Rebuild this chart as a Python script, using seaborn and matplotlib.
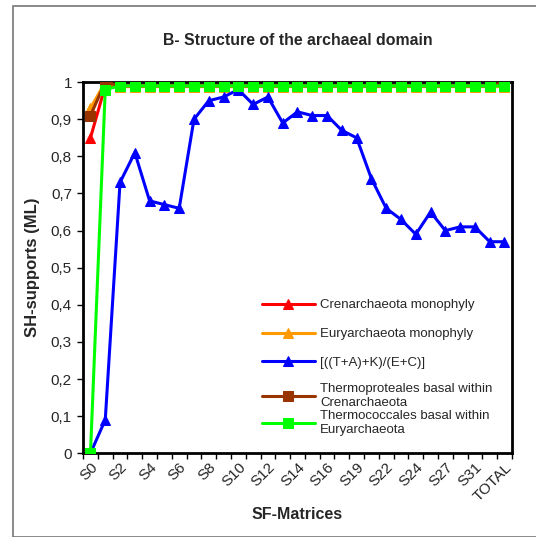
import numpy as np
import pandas as pd
import matplotlib
matplotlib.use("Agg")
import matplotlib.pyplot as plt
import seaborn as sns
from matplotlib.ticker import FixedLocator, FuncFormatter
from matplotlib.patches import Rectangle

matrices = ['S0', 'S1', 'S2', 'S3', 'S4', 'S5', 'S6', 'S7', 'S8', 'S9', 'S10',
            'S11', 'S12', 'S13', 'S14', 'S15', 'S16', 'S18', 'S19', 'S21', 'S22',
            'S23', 'S24', 'S26', 'S27', 'S30', 'S31', 'S32', 'TOTAL']

crenarchaeota = [0.85] + [0.99] * 28
euryarchaeota = [0.93, 1.0] + [0.988] * 27
tak_ec = [0.0, 0.09, 0.73, 0.81, 0.68, 0.67, 0.66, 0.90, 0.95, 0.96, 0.98,
          0.94, 0.96, 0.89, 0.92, 0.91, 0.91, 0.87, 0.85, 0.74, 0.66,
          0.63, 0.59, 0.65, 0.60, 0.61, 0.61, 0.57, 0.57]
thermoproteales = [0.91, 1.0] + [0.99] * 26 + [1.0]
thermococcales = [0.0, 0.98] + [0.99] * 27

series = [
    ('Crenarchaeota monophyly', crenarchaeota, '#ff0000', '^'),
    ('Euryarchaeota monophyly', euryarchaeota, '#ff9900', '^'),
    ('[((T+A)+K)/(E+C)]', tak_ec, '#0000ff', '^'),
    ('Thermoproteales basal within\nCrenarchaeota', thermoproteales, '#993300', 's'),
    ('Thermococcales basal within\nEuryarchaeota', thermococcales, '#00ff00', 's'),
]

sns.set_style('white')
plt.rcParams['font.family'] = ['Liberation Sans', 'DejaVu Sans']

fig = plt.figure(figsize=(5.36, 5.37), dpi=100)
ax = fig.add_axes([0.155, 0.156, 0.800, 0.691])

pos = np.arange(len(matrices))
for label, vals, color, marker in series:
    df = pd.DataFrame({'x': pos, 'y': vals})
    sns.lineplot(data=df, x='x', y='y', ax=ax, color=color, marker=marker,
                 markersize=7.5, markeredgecolor=color, linewidth=2.2,
                 label=label, sort=False)

ax.set_xlim(-0.5, len(matrices) - 0.5)
ax.set_ylim(0, 1)
ax.set_yticks(np.arange(0, 1.01, 0.1))
ax.yaxis.set_major_formatter(FuncFormatter(
    lambda v, p: '0' if abs(v) < 1e-9 else ('1' if abs(v - 1) < 1e-9 else ('%.1f' % v).replace('.', ','))))
ax.set_xticks(pos[::2])
ax.set_xticklabels(matrices[::2], rotation=45, ha='right', rotation_mode='anchor')
ax.xaxis.set_minor_locator(FixedLocator(np.arange(-0.5, len(matrices), 1)))
ax.tick_params(axis='x', which='major', length=0, labelsize=11, pad=5)
ax.tick_params(axis='x', which='minor', length=4, width=1, direction='out', color='black', bottom=True)
ax.tick_params(axis='y', length=4, width=1, direction='out', color='black', left=True, labelsize=11, pad=4)

for sp in ax.spines.values():
    sp.set_color('black')
    sp.set_linewidth(2)
    sp.set_zorder(1)

ax.set_xlabel('SF-Matrices', fontsize=11.5, fontweight='bold', labelpad=2)
ax.set_ylabel('SH-supports (ML)', fontsize=12, fontweight='bold', labelpad=8)
ax.set_title('B- Structure of the archaeal domain', fontsize=11.4, fontweight='bold', pad=27)

# two legends so the two-line entries can sit closer together, as in the original
handles, labels = ax.get_legend_handles_labels()
leg_opts = dict(frameon=False, fontsize=9.5, handlelength=4.0, numpoints=1,
                handletextpad=0.4, borderpad=0, borderaxespad=0, loc='upper left')
leg1 = ax.legend(handles[:3], labels[:3], bbox_to_anchor=(0.417, 0.415),
                 labelspacing=1.25, **leg_opts)
ax.add_artist(leg1)
ax.legend(handles[3:], labels[3:], bbox_to_anchor=(0.417, 0.188),
          labelspacing=0.05, **leg_opts)

fig.patches.append(Rectangle((13 / 536, 0.5 / 537), 1.0, 1 - 6.5 / 537,
                             transform=fig.transFigure, fill=False,
                             edgecolor='#777777', linewidth=1.2))

fig.savefig('out.png', dpi=100)
